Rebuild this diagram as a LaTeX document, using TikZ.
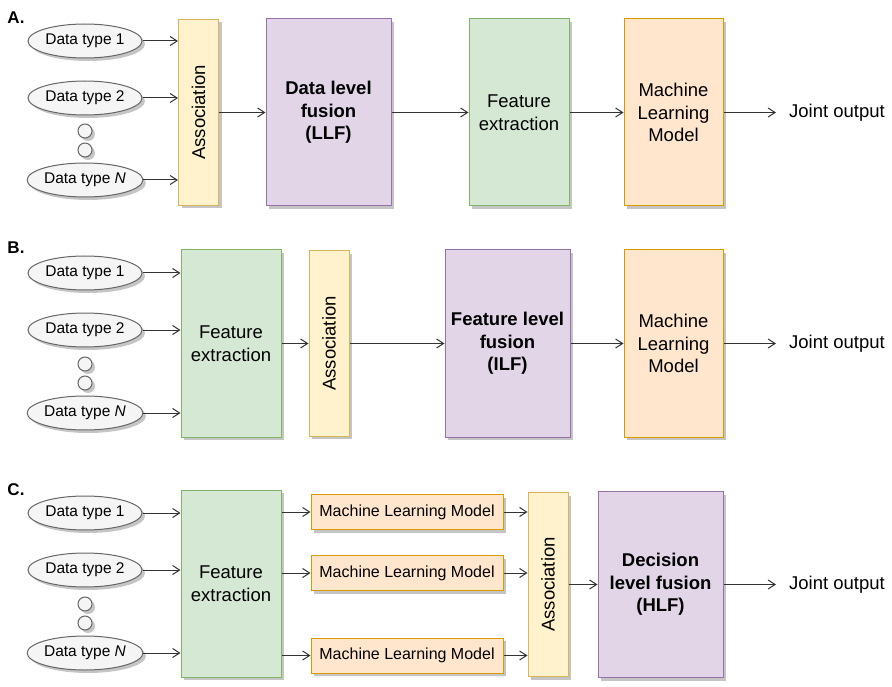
\documentclass[tikz,border=0pt]{standalone}
\usepackage{fontspec}
\setmainfont{Liberation Sans}
\usepackage{tikz}
\usetikzlibrary{shapes.geometric, arrows.meta, shadows}

\definecolor{assocfill}{HTML}{FFF2CC}
\definecolor{assocdraw}{HTML}{D6B656}
\definecolor{fusfill}{HTML}{E1D5E7}
\definecolor{fusdraw}{HTML}{9673A6}
\definecolor{featfill}{HTML}{D5E8D4}
\definecolor{featdraw}{HTML}{82B366}
\definecolor{modelfill}{HTML}{FFE6CC}
\definecolor{modeldraw}{HTML}{D79B00}
\definecolor{dtfill}{HTML}{F5F5F5}
\definecolor{dtdraw}{HTML}{666666}

\tikzstyle{shadowed} = [drop shadow={shadow xshift=3pt, shadow yshift=-3pt, fill=black!45, opacity=.5}]
\tikzstyle{panel} = [font=\fontsize{17}{20}\selectfont\bfseries, inner sep=0pt]
\tikzstyle{datatype} = [ellipse, minimum width=114pt, minimum height=34pt, inner sep=0pt, line width=1pt, draw=dtdraw, fill=dtfill, shadowed, font=\fontsize{15.5}{18}\selectfont]
\tikzstyle{gap} = [circle, minimum size=14pt, inner sep=0pt, line width=1pt, draw=dtdraw, fill=dtfill, shadowed]
\tikzstyle{assoc} = [rectangle, minimum width=40pt, inner sep=0pt, line width=1pt, draw=assocdraw, fill=assocfill, shadowed, label={[rotate=90, font=\fontsize{18.5}{22}\selectfont]center:Association}]
\tikzstyle{fusion} = [rectangle, minimum width=125pt, minimum height=187pt, align=center, line width=1pt, draw=fusdraw, fill=fusfill, shadowed, font=\fontsize{18.5}{22.5}\selectfont\bfseries]
\tikzstyle{feature} = [rectangle, minimum width=100pt, minimum height=187pt, align=center, line width=1pt, draw=featdraw, fill=featfill, shadowed, font=\fontsize{18.5}{22.5}\selectfont]
\tikzstyle{model} = [rectangle, minimum width=99pt, minimum height=187pt, align=center, line width=1pt, draw=modeldraw, fill=modelfill, shadowed, font=\fontsize{18.5}{22.5}\selectfont]
\tikzstyle{smallmodel} = [rectangle, minimum width=192pt, minimum height=35pt, inner sep=0pt, line width=1pt, draw=modeldraw, fill=modelfill, shadowed, font=\fontsize{16}{19}\selectfont]
\tikzstyle{output} = [inner xsep=13pt, font=\fontsize{18.5}{22}\selectfont]
\tikzstyle{arrow} = [line width=1pt, draw=black!80, -{Straight Barb[length=7pt, width=9pt]}]

\begin{document}
\begin{tikzpicture}[x=1pt, y=-1pt]
\useasboundingbox (0,0) rectangle (892,687);

% A. data level fusion
\node (labA) [panel] at (16,18) {A.};
\node (dtA1) [datatype] at (85,41) {Data type 1};
\node (dtA2) [datatype] at (85,98) {Data type 2};
\node (gapA1) [gap] at (85,131) {};
\node (gapA2) [gap] at (85,150) {};
\node (dtAN) [datatype] at (85,180) {Data type \textit{N}};
\node (assocA) [assoc, minimum height=186pt] at (198.5,112.5) {};
\node (fusA) [fusion] at (328.5,112.5) {Data level\\fusion\\(LLF)};
\node (featA) [feature] at (519,112.5) {Feature\\extraction};
\node (mlA) [model] at (673.5,112.5) {Machine\\Learning\\Model};
\node (outA) [output] at (837,112.5) {Joint output};

\draw [arrow] (dtA1.east) -- (dtA1 -| assocA.west);
\draw [arrow] (dtA2.east) -- (dtA2 -| assocA.west);
\draw [arrow] (dtAN.east) -- (dtAN -| assocA.west);
\draw [arrow] (assocA) -- (fusA);
\draw [arrow] (fusA) -- (featA);
\draw [arrow] (featA) -- (mlA);
\draw [arrow] (mlA) -- (outA);

% B. feature level fusion
\node (labB) [panel] at (16,248) {B.};
\node (dtB1) [datatype] at (85,273) {Data type 1};
\node (dtB2) [datatype] at (85,330) {Data type 2};
\node (gapB1) [gap] at (85,364) {};
\node (gapB2) [gap] at (85,383) {};
\node (dtBN) [datatype] at (85,413) {Data type \textit{N}};
\node (featB) [feature] at (231,343.5) {Feature\\extraction};
\node (assocB) [assoc, minimum height=185pt] at (329,343.5) {};
\node (fusB) [fusion] at (507.5,343.5) {Feature level\\fusion\\(ILF)};
\node (mlB) [model] at (673.5,343.5) {Machine\\Learning\\Model};
\node (outB) [output] at (837,343.5) {Joint output};

\draw [arrow] (dtB1.east) -- (dtB1 -| featB.west);
\draw [arrow] (dtB2.east) -- (dtB2 -| featB.west);
\draw [arrow] (dtBN.east) -- (dtBN -| featB.west);
\draw [arrow] (featB) -- (assocB);
\draw [arrow] (assocB) -- (fusB);
\draw [arrow] (fusB) -- (mlB);
\draw [arrow] (mlB) -- (outB);

% C. decision level fusion
\node (labC) [panel] at (16,490) {C.};
\node (dtC1) [datatype] at (85,513) {Data type 1};
\node (dtC2) [datatype] at (85,570) {Data type 2};
\node (gapC1) [gap] at (85,604) {};
\node (gapC2) [gap] at (85,623) {};
\node (dtCN) [datatype] at (85,653) {Data type \textit{N}};
\node (featC) [feature] at (231,583.5) {Feature\\extraction};
\node (mlC1) [smallmodel] at (407,512) {Machine Learning Model};
\node (mlC2) [smallmodel] at (407,573) {Machine Learning Model};
\node (mlC3) [smallmodel] at (407,655.5) {Machine Learning Model};
\node (assocC) [assoc, minimum height=184pt] at (548,584.5) {};
\node (fusC) [fusion, minimum height=186pt] at (660.5,584.5) {Decision\\level fusion\\(HLF)};
\node (outC) [output] at (837,584.5) {Joint output};

\draw [arrow] (dtC1.east) -- (dtC1 -| featC.west);
\draw [arrow] (dtC2.east) -- (dtC2 -| featC.west);
\draw [arrow] (dtCN.east) -- (dtCN -| featC.west);
\draw [arrow] (featC.east |- mlC1) -- (mlC1.west);
\draw [arrow] (featC.east |- mlC2) -- (mlC2.west);
\draw [arrow] (featC.east |- mlC3) -- (mlC3.west);
\draw [arrow] (mlC1.east) -- (mlC1 -| assocC.west);
\draw [arrow] (mlC2.east) -- (mlC2 -| assocC.west);
\draw [arrow] (mlC3.east) -- (mlC3 -| assocC.west);
\draw [arrow] (assocC) -- (fusC);
\draw [arrow] (fusC) -- (outC);

\end{tikzpicture}
\end{document}
